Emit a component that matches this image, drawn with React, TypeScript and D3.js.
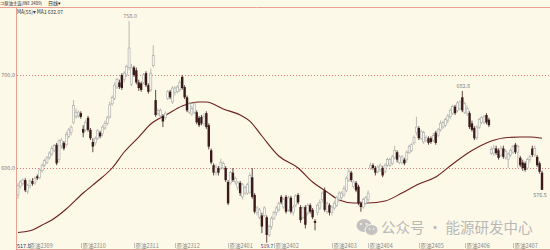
import React from "react";
import * as d3 from "d3";

const W = 550;
const H = 250;

const opens = [
  571, 580, 583, 587, 575, 581, 586, 584, 591, 590,
  597, 603, 606, 611, 615, 619, 625, 609, 624, 627,
  625, 634, 638, 649, 655, 656, 659, 642, 641, 654,
  641, 628, 627, 632, 638, 637, 643, 648, 655, 669,
  675, 687, 692, 700, 695, 700, 708, 690, 708, 705,
  692, 691, 692, 702, 689, 684, 710, 673, 659, 656,
  656, 654, 675, 682, 671, 681, 682, 684, 698, 687,
  676, 660, 658, 660, 660, 654, 655, 648, 659, 646,
  619, 603, 595, 600, 600, 600, 600, 585, 584, 595,
  585, 579, 584, 569, 573, 573, 574, 590, 571, 552,
  547, 549, 549, 547, 528, 537, 546, 552, 555, 569,
  558, 569, 555, 568, 552, 560, 571, 558, 547, 558,
  552, 560, 555, 543, 552, 557, 566, 576, 553, 560,
  552, 557, 560, 566, 568, 571, 576, 587, 595, 580,
  584, 580, 562, 558, 562, 566, 600, 603, 600, 596,
  598, 600, 596, 603, 603, 605, 611, 617, 606, 606,
  609, 609, 617, 619, 627, 638, 643, 632, 628, 630,
  632, 632, 630, 638, 635, 641, 644, 646, 651, 655,
  659, 666, 662, 664, 676, 660, 659, 659, 648, 643,
  633, 644, 649, 649, 657, 652, 616, 616, 621, 619,
  614, 621, 611, 609, 614, 617, 625, 617, 611, 606,
  605, 600, 609, 621, 614, 612, 605, 595,
];

const highs = [
  584, 587, 589, 589, 583, 588, 589, 591, 593, 600,
  605, 610, 613, 618, 624, 626, 627, 631, 632, 629,
  639, 643, 646, 673, 664, 662, 661, 646, 652, 656,
  643, 632, 634, 642, 640, 646, 651, 656, 671, 678,
  692, 697, 695, 702, 704, 711, 758, 712, 710, 708,
  695, 693, 702, 704, 691, 707, 732, 684, 664, 664,
  658, 661, 684, 684, 688, 688, 689, 695, 700, 689,
  678, 671, 667, 671, 662, 656, 657, 659, 661, 648,
  621, 605, 604, 602, 610, 607, 602, 587, 597, 600,
  591, 586, 586, 584, 581, 584, 595, 600, 573, 559,
  557, 552, 559, 549, 539, 548, 554, 559, 564, 571,
  568, 571, 570, 570, 560, 572, 573, 560, 559, 560,
  562, 562, 557, 545, 562, 566, 575, 579, 564, 562,
  560, 565, 570, 575, 575, 581, 591, 600, 597, 587,
  586, 582, 564, 568, 570, 576, 606, 605, 602, 603,
  605, 602, 605, 611, 611, 614, 624, 619, 614, 614,
  611, 619, 625, 627, 635, 655, 645, 641, 640, 635,
  634, 634, 638, 640, 643, 651, 651, 654, 658, 664,
  668, 668, 672, 673, 682.8, 671, 667, 661, 651, 645,
  646, 654, 656, 657, 659, 654, 623, 625, 624, 621,
  624, 624, 620, 617, 621, 625, 627, 625, 613, 609,
  607, 611, 614, 624, 624, 614, 607, 597,
];

const lows = [
  567, 578, 581, 574, 572, 578, 581, 582, 587, 588,
  595, 601, 604, 609, 613, 617, 603, 606, 621, 619,
  623, 632, 635, 647, 653, 654, 653, 633, 639, 639,
  630, 617, 624, 630, 632, 634, 641, 646, 653, 667,
  673, 685, 685, 684, 692, 698, 705, 688, 698, 690,
  683, 682, 690, 687, 680, 682, 708, 655, 656, 654,
  644, 652, 673, 674, 669, 678, 680, 682, 684, 674,
  660, 658, 656, 658, 647, 644, 646, 645, 642, 620,
  604, 592, 592, 592, 598, 598, 585, 560, 582, 585,
  582, 576, 570, 566, 571, 571, 572, 567, 551, 549,
  545, 530, 547, 519.7, 526, 534, 544, 549, 553, 561,
  556, 551, 553, 551, 549, 558, 561, 541, 545, 535,
  549, 551, 545, 533, 549, 555, 563, 553, 551, 549,
  549, 555, 558, 563, 566, 569, 574, 585, 585, 578,
  574, 560, 553, 556, 560, 563, 598, 598, 592, 594,
  596, 590, 594, 601, 601, 603, 609, 606, 604, 604,
  603, 606, 615, 617, 625, 635, 630, 630, 626, 628,
  625, 626, 628, 625, 633, 639, 642, 644, 648, 653,
  657, 657, 660, 662, 660, 658, 656, 642, 639, 630,
  630, 642, 647, 647, 647, 644, 614, 613, 614, 609,
  612, 610, 609, 600, 612, 615, 615, 600, 601, 597,
  596, 598, 606, 612, 612, 601, 594, 576.5,
];

const closes = [
  581, 585, 587, 576, 581, 586, 583, 589, 589, 598,
  603, 608, 611, 616, 621, 624, 605, 629, 630, 621,
  636, 641, 644, 667, 660, 660, 655, 638, 649, 641,
  632, 623, 632, 640, 634, 644, 648, 654, 668, 676,
  689, 695, 687, 686, 702, 709, 729, 708, 700, 692,
  686, 684, 700, 689, 682, 702, 721, 657, 662, 662,
  650, 659, 682, 676, 686, 686, 687, 692, 686, 676,
  662, 669, 664, 669, 649, 646, 648, 655, 644, 623,
  606, 595, 601, 595, 606, 605, 587, 562, 595, 587,
  589, 584, 573, 582, 579, 582, 592, 569, 553, 557,
  555, 537, 557, 528, 537, 546, 552, 557, 562, 563,
  566, 553, 568, 553, 558, 570, 563, 544, 557, 539,
  560, 553, 547, 541, 560, 563, 573, 555, 562, 552,
  558, 562, 568, 573, 573, 578, 589, 596, 587, 585,
  576, 562, 558, 566, 568, 573, 603, 600, 595, 601,
  603, 592, 603, 609, 609, 612, 619, 609, 612, 612,
  605, 617, 623, 625, 633, 644, 632, 639, 638, 633,
  627, 628, 635, 627, 641, 648, 649, 652, 656, 662,
  666, 659, 670, 671, 662, 669, 664, 644, 641, 632,
  644, 652, 654, 655, 649, 646, 620, 621, 616, 611,
  621, 612, 618, 615, 619, 623, 617, 623, 603, 600,
  598, 609, 612, 614, 621, 603, 596, 576.5,
];

// MA(55) at a set of candle indices
const maIdx = [0, 6, 10, 14, 20, 27, 33, 39, 44, 50, 55, 62, 68, 75, 78, 85, 92, 96, 101, 108, 116, 122, 128, 133, 139, 145, 152, 159, 166, 173, 180, 187, 194, 201, 208, 212, 217];
const maVal = [530.7, 533.4, 538.7, 544.1, 555.9, 573.1, 586.0, 600.0, 617.2, 633.3, 647.3, 658.0, 666.6, 670.9, 670.9, 663.4, 657.0, 650.5, 634.4, 612.9, 600.0, 584.9, 574.2, 565.6, 562.4, 562.4, 564.5, 573.1, 582.8, 590.3, 604.3, 617.2, 626.9, 632.2, 633.3, 633.3, 632.07];

const contractLabels = ["原油2309", "原油2310", "原油2311", "原油2312", "原油2401", "原油2402", "原油2403", "原油2404", "原油2405", "原油2406", "原油2407"];
const contractIdx = [4, 26, 48, 65, 87, 106, 130, 145, 166, 185, 205];

const yTicks = [600, 700];
const highMarks = [46, 184];
const lowMarks = [103, 217];
const axisBottomLabel = "517.5";

const BG = "#FDF9E8";
const FRAME = "#E8A294";
const GRID = "#D97C7C";
const DOWN = "#3A1A1A";
const UP_STROKE = "#A8A8A4";
const MA_COLOR = "#6E1F1F";
const FONT = "'Noto Sans CJK SC', 'Noto Sans', sans-serif";

export default function App() {
  const N = closes.length;
  const x = d3.scaleLinear().domain([0, N - 1]).range([18, 542]);
  const y = d3.scaleLinear().domain([600, 700]).range([168, 75]);
  const bw = 2;

  const maLine = d3
    .line<number>()
    .x((_, k) => x(maIdx[k]))
    .y((v) => y(v))
    .curve(d3.curveMonotoneX);

  const minIdx = lows.indexOf(d3.min(lows) as number);

  return (
    <svg
      width={W}
      height={H}
      style={{ position: "absolute", left: 0, top: 0, display: "block" }}
      fontFamily={FONT}
    >
      <rect x={0} y={0} width={W} height={H} fill={BG} />

      {/* header */}
      <text x={0} y={5} fontSize={4.5} fill="#222" textLength={42} lengthAdjust="spacingAndGlyphs">
        ⇒原油主连(INE 2409)
      </text>
      <text x={48} y={5} fontSize={5} fill="#222">
        日线▾
      </text>

      {/* frame */}
      <line x1={0} x2={W} y1={7.5} y2={7.5} stroke={FRAME} strokeWidth={1} />
      <line x1={16.5} x2={16.5} y1={7} y2={H} stroke={FRAME} strokeWidth={1} />
      <line x1={16} x2={W} y1={249.5} y2={249.5} stroke={FRAME} strokeWidth={1} />

      <text x={17} y={13.5} fontSize={5.5} fill="#333" textLength={46} lengthAdjust="spacingAndGlyphs">
        MA(55)▾ MA1 632.07
      </text>

      {/* grid + y labels */}
      {yTicks.map((t) => (
        <g key={t}>
          <line
            x1={17}
            x2={W}
            y1={Math.round(y(t)) + 0.5}
            y2={Math.round(y(t)) + 0.5}
            stroke={GRID}
            strokeWidth={1}
            strokeDasharray="1,2"
          />
          <text x={15} y={y(t) + 2} fontSize={5.5} fill="#777" textAnchor="end">
            {t.toFixed(1)}
          </text>
        </g>
      ))}

      {/* MA line */}
      <path d={maLine(maVal) || ""} fill="none" stroke={MA_COLOR} strokeWidth={1.1} />

      {/* candles */}
      {closes.map((c, i) => {
        const o = opens[i];
        const up = c >= o;
        const cx = x(i);
        const top = y(Math.max(o, c));
        const bot = y(Math.min(o, c));
        const h = Math.max(bot - top, 1);
        return (
          <g key={i}>
            <line
              x1={cx}
              x2={cx}
              y1={y(highs[i])}
              y2={y(lows[i])}
              stroke={up ? UP_STROKE : DOWN}
              strokeWidth={0.8}
            />
            {up ? (
              <rect
                x={cx - bw / 2}
                y={top}
                width={bw}
                height={h}
                fill="#FBFBF6"
                stroke={UP_STROKE}
                strokeWidth={0.6}
              />
            ) : (
              <rect x={cx - bw / 2 - 0.2} y={top} width={bw + 0.4} height={h} fill={DOWN} />
            )}
          </g>
        );
      })}

      {/* high / low markers */}
      {highMarks.map((i) => (
        <text key={"h" + i} x={x(i) + 1} y={y(highs[i]) - 3} fontSize={5.5} fill="#888" textAnchor="middle">
          {highs[i].toFixed(1)}
        </text>
      ))}
      {lowMarks.map((i) =>
        i === minIdx ? (
          <text key={"l" + i} x={x(i) - 6} y={248} fontSize={5} fill="#2A2A66">
            {lows[i].toFixed(1)}
          </text>
        ) : (
          <text key={"l" + i} x={x(i) - 2} y={y(lows[i]) + 7} fontSize={5.5} fill="#777" textAnchor="middle">
            {lows[i].toFixed(1)}
          </text>
        )
      )}

      {/* bottom axis */}
      <text x={17} y={248} fontSize={5.5} fill="#2A2A66">
        {axisBottomLabel}
      </text>
      {contractLabels.map((lab, k) => {
        const px = Math.round(x(contractIdx[k])) + 0.5;
        return (
          <g key={lab}>
            <line x1={px} x2={px} y1={243} y2={248} stroke="#999" strokeWidth={0.6} />
            <text x={px + 1} y={248} fontSize={5.5} fill="#888">
              {lab}
            </text>
          </g>
        );
      })}

      {/* watermark */}
      <g fill="#BDBDBD" opacity={0.9}>
        <ellipse cx={364} cy={225.5} rx={7.5} ry={6.5} />
        <ellipse cx={371.5} cy={230} rx={6.5} ry={5.5} stroke={BG} strokeWidth={1} />
        <circle cx={361} cy={224} r={1} fill={BG} />
        <circle cx={366.5} cy={224} r={1} fill={BG} />
        <circle cx={369.5} cy={229} r={0.8} fill={BG} />
        <circle cx={373.5} cy={229} r={0.8} fill={BG} />
      </g>
      <text x={381} y={233} fontSize={14.5} fill="#B8B8B8">
        公众号 · 能源研发中心
      </text>
    </svg>
  );
}
